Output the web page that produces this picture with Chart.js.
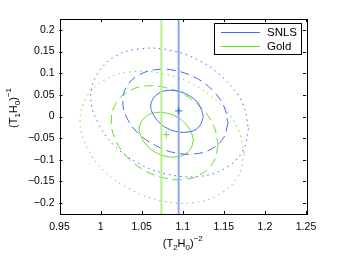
<!DOCTYPE html>
<html>
<head>
<meta charset="utf-8">
<script src="https://cdn.jsdelivr.net/npm/chart.js@4.4.0/dist/chart.umd.min.js"></script>
<style>
html, body { margin: 0; padding: 0; background: #fff; }
</style>
</head>
<body>
<canvas id="chart" width="339" height="256"></canvas>
<script>
const xTicks = [0.95, 1, 1.05, 1.1, 1.15, 1.2, 1.25]
const yTicks = [-0.2, -0.15, -0.1, -0.05, 0, 0.05, 0.1, 0.15, 0.2]

const names = ["SNLS", "Gold"]
const bestX = [1.095, 1.080]
const bestY = [0.013, -0.042]
const lineX = [1.095, 1.074]

// contours, going round each curve
const snls1X = [1.125, 1.122, 1.116, 1.105, 1.093, 1.081, 1.071, 1.064, 1.061, 1.064, 1.071, 1.081, 1.093, 1.105, 1.116, 1.122]
const snls1Y = [0.000, -0.017, -0.030, -0.036, -0.035, -0.027, -0.013, 0.005, 0.024, 0.041, 0.054, 0.060, 0.059, 0.051, 0.037, 0.019]
const snls2X = [1.155, 1.150, 1.136, 1.116, 1.091, 1.067, 1.046, 1.032, 1.027, 1.032, 1.046, 1.067, 1.091, 1.116, 1.136, 1.150]
const snls2Y = [-0.014, -0.048, -0.074, -0.086, -0.084, -0.067, -0.039, -0.003, 0.035, 0.070, 0.095, 0.108, 0.106, 0.089, 0.061, 0.024]
const snls3X = [1.180, 1.173, 1.152, 1.121, 1.084, 1.047, 1.016, 0.996, 0.988, 0.996, 1.016, 1.047, 1.084, 1.121, 1.152, 1.173]
const snls3Y = [-0.028, -0.080, -0.119, -0.138, -0.134, -0.109, -0.066, -0.011, 0.046, 0.098, 0.137, 0.156, 0.153, 0.128, 0.084, 0.030]

const gold1X = [1.113, 1.110, 1.103, 1.093, 1.080, 1.067, 1.057, 1.050, 1.047, 1.050, 1.057, 1.067, 1.080, 1.093, 1.103, 1.110]
const gold1Y = [-0.055, -0.073, -0.087, -0.093, -0.092, -0.083, -0.068, -0.049, -0.029, -0.011, 0.002, 0.009, 0.008, -0.001, -0.016, -0.035]
const gold2X = [1.143, 1.138, 1.124, 1.103, 1.078, 1.053, 1.032, 1.018, 1.013, 1.018, 1.032, 1.053, 1.078, 1.103, 1.124, 1.138]
const gold2Y = [-0.065, -0.103, -0.131, -0.145, -0.142, -0.124, -0.093, -0.053, -0.011, 0.028, 0.056, 0.070, 0.067, 0.049, 0.017, -0.023]
const gold3X = [1.175, 1.167, 1.145, 1.113, 1.075, 1.037, 1.004, 0.983, 0.975, 0.983, 1.004, 1.037, 1.075, 1.113, 1.145, 1.167]
const gold3Y = [-0.086, -0.139, -0.179, -0.199, -0.195, -0.169, -0.125, -0.069, -0.010, 0.044, 0.083, 0.103, 0.099, 0.074, 0.029, -0.027]

const blue = "#4466ee"
const green = "#66dd22"
const blueLight = "#8fa3ff"
const greenLight = "#b3ee8f"

function loop(xs, ys) {
    const pts = xs.map((x, i) => ({ x: x, y: ys[i] }))
    pts.push(pts[0])
    return pts
}

function contour(xs, ys, color, dash) {
    return {
        data: loop(xs, ys),
        showLine: true,
        borderColor: color,
        borderWidth: 1,
        borderDash: dash,
        tension: 0.4,
        pointRadius: 0,
        fill: false,
        order: 5
    }
}

function fmt(v) {
    const s = String(Number(v.toFixed(2)))
    return v < 0 ? "\u2212" + s.slice(1) : s
}

const font = "Liberation Sans, Arial, Helvetica, sans-serif"

const datasets = [
    contour(snls1X, snls1Y, blue, []),
    contour(snls2X, snls2Y, blue, [9, 5]),
    contour(snls3X, snls3Y, blue, [1.5, 4]),
    contour(gold1X, gold1Y, green, []),
    contour(gold2X, gold2Y, green, [9, 5]),
    contour(gold3X, gold3Y, green, [1.5, 4]),
    {
        data: [{ x: lineX[0], y: -0.225 }, { x: lineX[0], y: 0.225 }],
        showLine: true, borderColor: blueLight, borderWidth: 2, pointRadius: 0, order: 3
    },
    {
        data: [{ x: lineX[1], y: -0.225 }, { x: lineX[1], y: 0.225 }],
        showLine: true, borderColor: greenLight, borderWidth: 2, pointRadius: 0, order: 3
    },
    {
        data: [{ x: bestX[0], y: bestY[0] }],
        pointStyle: "cross", pointRadius: 3.5, borderColor: "#3355dd", borderWidth: 1, order: 1
    },
    {
        data: [{ x: bestX[1], y: bestY[1] }],
        pointStyle: "cross", pointRadius: 3.5, borderColor: "#77dd44", borderWidth: 1, order: 1
    }
]

function drawRich(ctx, parts, x, y, rotate) {
    ctx.save()
    ctx.translate(x, y)
    if (rotate) ctx.rotate(-Math.PI / 2)
    let w = 0
    parts.forEach(p => {
        ctx.font = (p.k ? 8 : 11) + "px " + font
        w += ctx.measureText(p.t).width
    })
    let cx = -w / 2
    ctx.fillStyle = "#000"
    ctx.textBaseline = "middle"
    ctx.textAlign = "left"
    parts.forEach(p => {
        ctx.font = (p.k ? 8 : 11) + "px " + font
        const dy = p.k === "sub" ? 3.5 : p.k === "sup" ? -5 : 0
        ctx.fillText(p.t, cx, dy)
        cx += ctx.measureText(p.t).width
    })
    ctx.restore()
}

const frame = {
    id: "frame",
    afterDatasetsDraw(chart) {
        const ctx = chart.ctx
        const a = chart.chartArea
        const sx = chart.scales.x
        const sy = chart.scales.y
        ctx.save()
        ctx.strokeStyle = "#000"
        ctx.lineWidth = 1
        ctx.beginPath()
        xTicks.forEach(v => {
            const px = Math.round(sx.getPixelForValue(v)) + 0.5
            ctx.moveTo(px, a.bottom); ctx.lineTo(px, a.bottom - 3)
            ctx.moveTo(px, a.top); ctx.lineTo(px, a.top + 3)
        })
        yTicks.forEach(v => {
            const py = Math.round(sy.getPixelForValue(v)) + 0.5
            ctx.moveTo(a.left, py); ctx.lineTo(a.left + 3, py)
            ctx.moveTo(a.right, py); ctx.lineTo(a.right - 3, py)
        })
        ctx.stroke()
        ctx.strokeRect(Math.round(a.left) + 0.5, Math.round(a.top) + 0.5, Math.round(a.right - a.left), Math.round(a.bottom - a.top))

        // legend
        const lx = Math.round(a.right) - 92
        const ly = Math.round(a.top) + 4
        ctx.fillStyle = "#fff"
        ctx.fillRect(lx, ly, 87, 31)
        ctx.strokeStyle = "#000"
        ctx.strokeRect(lx + 0.5, ly + 0.5, 87, 31)
        const colors = [blue, green]
        ctx.font = "11.5px " + font
        ctx.textBaseline = "middle"
        ctx.textAlign = "left"
        names.forEach((n, i) => {
            const y = ly + 9 + i * 14 + 0.5
            ctx.strokeStyle = colors[i]
            ctx.lineWidth = 1
            ctx.beginPath()
            ctx.moveTo(lx + 7, y); ctx.lineTo(lx + 46, y)
            ctx.stroke()
            ctx.fillStyle = "#000"
            ctx.fillText(n, lx + 53, y)
        })

        drawRich(ctx, [{ t: "(T" }, { t: "2", k: "sub" }, { t: "H" }, { t: "0", k: "sub" }, { t: ")" }, { t: "\u22122", k: "sup" }], (a.left + a.right) / 2, 244, false)
        drawRich(ctx, [{ t: "(T" }, { t: "1", k: "sub" }, { t: "H" }, { t: "0", k: "sub" }, { t: ")" }, { t: "\u22121", k: "sup" }], 14, 108, true)
        ctx.restore()
    }
}

new Chart(document.getElementById("chart").getContext("2d"), {
    type: "scatter",
    data: { datasets: datasets },
    options: {
        responsive: false,
        animation: false,
        layout: { padding: { left: 0, top: 19, right: 33, bottom: 0 } },
        plugins: { legend: { display: false }, tooltip: { enabled: false } },
        scales: {
            x: {
                type: "linear", min: 0.95, max: 1.25,
                afterBuildTicks: s => { s.ticks = xTicks.map(v => ({ value: v })) },
                afterFit: s => { s.height = 42 },
                grid: { display: false, drawTicks: false },
                border: { display: false },
                ticks: { padding: 7, color: "#000", font: { family: font, size: 10.5 }, maxRotation: 0, autoSkip: false, callback: v => fmt(v) }
            },
            y: {
                type: "linear", min: -0.225, max: 0.225,
                afterBuildTicks: s => { s.ticks = yTicks.map(v => ({ value: v })) },
                afterFit: s => { s.width = 59.5 },
                grid: { display: false, drawTicks: false },
                border: { display: false },
                ticks: { padding: 5, color: "#000", font: { family: font, size: 10.5 }, autoSkip: false, callback: v => fmt(v) }
            }
        }
    },
    plugins: [frame]
})
</script>
</body>
</html>
